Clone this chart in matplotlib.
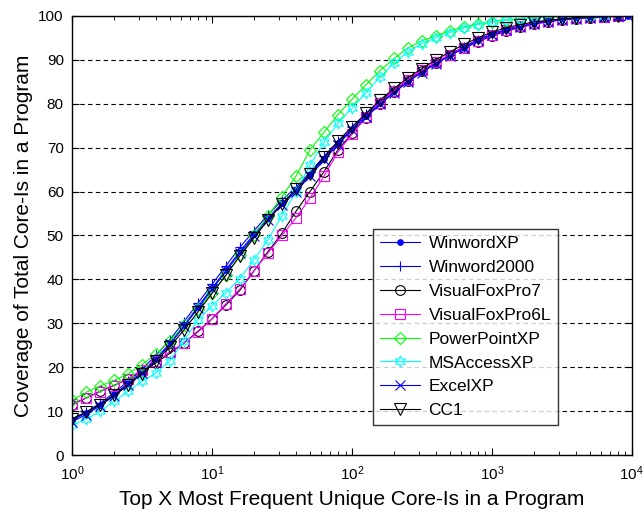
import matplotlib
matplotlib.use("Agg")
import matplotlib.pyplot as plt

plt.rcParams['font.family'] = ['Liberation Sans', 'DejaVu Sans']
plt.rcParams['mathtext.default'] = 'regular'

# sample positions (top X core-Is)
x = [1, 1.26, 1.58, 2, 2.51, 3.16, 3.98, 5.01, 6.31, 7.94,
     10, 12.6, 15.8, 20, 25.1, 31.6, 39.8, 50.1, 63.1, 79.4,
     100, 126, 158, 200, 251, 316, 398, 501, 631, 794,
     1000, 1259, 1585, 1995, 2512, 3162, 3981, 5012, 6310, 7943, 9400]

winwordxp = [8, 9.5, 11.5, 13.8, 16.3, 19, 22, 25.5, 29.6, 33.8,
             38, 42.2, 46.4, 50.3, 54, 57.3, 60.3, 63.8, 67.5, 71,
             74.3, 77.3, 80.2, 82.8, 85.2, 87.3, 89.3, 91, 92.8, 94.5,
             95.8, 96.8, 97.6, 98.3, 98.8, 99.2, 99.5, 99.7, 99.85, 99.95, 100]
winword2000 = [8.2, 9.8, 11.8, 14.2, 16.8, 19.6, 22.7, 26.3, 30.4, 34.6,
               38.9, 43.1, 47.3, 51.1, 54.7, 58, 61, 64.4, 68, 71.5,
               74.7, 77.7, 80.5, 83.1, 85.4, 87.5, 89.5, 91.2, 93, 94.6,
               95.9, 96.9, 97.7, 98.4, 98.9, 99.3, 99.6, 99.8, 99.9, 100]
visualfoxpro7 = [11.5, 13, 14.5, 15.9, 17.3, 19, 21, 23.2, 25.5, 28.2,
                 31, 34.2, 37.5, 42, 46.3, 50.5, 55.5, 60, 64.5, 69.5,
                 73.3, 76.8, 79.9, 82.7, 85.2, 87.4, 89.3, 91, 92.6, 94.1,
                 95.4, 96.5, 97.4, 98.1, 98.7, 99.1, 99.4, 99.6, 99.8, 99.9]
visualfoxpro6l = [11.7, 13, 14.4, 15.8, 17.4, 19.4, 21.5, 23.5, 25.5, 28,
                  31, 34.5, 37.8, 42, 46, 50, 54, 58.5, 63.5, 69,
                  73, 77, 80.2, 83, 85.5, 87.6, 89.5, 91.2, 92.8, 94.3,
                  95.6, 96.7, 97.6, 98.3, 98.8, 99.2, 99.5, 99.7, 99.85, 99.95]
powerpointxp = [12.5, 14.3, 15.7, 17, 18.5, 20.6, 23, 26, 29.5, 33.3,
                37, 41, 45.5, 50, 54.5, 58.8, 63.5, 69.5, 73.5, 77.5,
                81, 84.3, 87.5, 90.3, 92.7, 94.3, 95.5, 96.6, 97.5, 98.2,
                98.7, 99.1, 99.4, 99.6, 99.8, 99.9, 100, 100]
msaccessxp = [6.8, 8.2, 10, 12.2, 14.5, 16.8, 18.7, 21.5, 26, 30.8,
              34, 37, 40.2, 44.5, 49, 54.5, 60, 66, 71.2, 75.5,
              79, 82.5, 86, 89.3, 91.8, 93.7, 95, 96.2, 97.2, 98,
              98.6, 99, 99.3, 99.5, 99.7, 99.8, 99.9, 100, 100]
excelxp = [7.6, 9.2, 11.2, 13.5, 16, 18.7, 21.7, 25.2, 29.3, 33.5,
           37.7, 41.9, 46, 49.9, 53.6, 57, 60, 63.5, 67.2, 70.7,
           74, 77, 79.9, 82.5, 85, 87.1, 89.1, 90.9, 92.7, 94.4,
           95.7, 96.7, 97.5, 98.2, 98.7, 99.1, 99.4, 99.6, 99.8, 99.9, 100]
cc1 = [8.3, 9.7, 11.5, 13.6, 15.9, 18.5, 21.4, 24.7, 28.5, 32.6,
       36.8, 41, 45.3, 49.5, 53.5, 57.2, 60.5, 64, 67.8, 71.4,
       74.7, 77.8, 80.8, 83.5, 85.9, 88, 90, 91.8, 93.5, 95,
       96.3, 97.3, 98, 98.6, 99, 99.3, 99.6, 99.8, 99.9, 100]

series = [
    ("WinwordXP", winwordxp, "#0000ff", "."),
    ("Winword2000", winword2000, "#0000ff", "+"),
    ("VisualFoxPro7", visualfoxpro7, "k", "o"),
    ("VisualFoxPro6L", visualfoxpro6l, "#ff00ff", "s"),
    ("PowerPointXP", powerpointxp, "#00ff00", "D"),
    ("MSAccessXP", msaccessxp, "#00ffff", (6, 1, 0)),
    ("ExcelXP", excelxp, "#0000ff", "x"),
    ("CC1", cc1, "k", "v"),
]

fig = plt.figure(figsize=(6.44, 5.13), dpi=100)
ax = fig.add_axes([0.112, 0.113, 0.869, 0.856])

for name, y, col, mk in series:
    ms = 7
    if mk == ".":
        ms = 8
    if mk == "D":
        ms = 6.5
    if mk == "v":
        ms = 8
    if isinstance(mk, tuple):
        ms = 8
    filled = mk in (".", "+", "x")
    ax.plot(x[:len(y)], y, color=col, marker=mk, ms=ms, lw=0.8,
            mfc=col if filled else 'none',
            mec=col, mew=0.8, label=name)

ax.set_xscale('log')
ax.set_xlim(1, 10000)
ax.set_ylim(0, 100)
ax.set_yticks(range(0, 101, 10))
ax.yaxis.grid(True, linestyle=(0, (4, 3)), color='k', lw=0.8)
ax.tick_params(which='both', direction='in', top=True, right=True, labelsize=11)
ax.tick_params(axis='x', which='major', length=5, pad=7)
ax.tick_params(axis='y', which='major', length=5, pad=6)
ax.tick_params(which='minor', length=3)
for s in ax.spines.values():
    s.set_linewidth(1)

ax.set_xlabel("Top X Most Frequent Unique Core-Is in a Program", fontsize=15, labelpad=5)
ax.set_ylabel("Coverage of Total Core-Is in a Program", fontsize=15, labelpad=4)

leg = ax.legend(loc='lower right', bbox_to_anchor=(0.868, 0.068), fontsize=12.5,
                frameon=True, fancybox=False, edgecolor='k', handlelength=2.3,
                handletextpad=0.5, borderaxespad=0, labelspacing=0.5)
leg.get_frame().set_linewidth(1)

fig.savefig("out.png", dpi=100)
